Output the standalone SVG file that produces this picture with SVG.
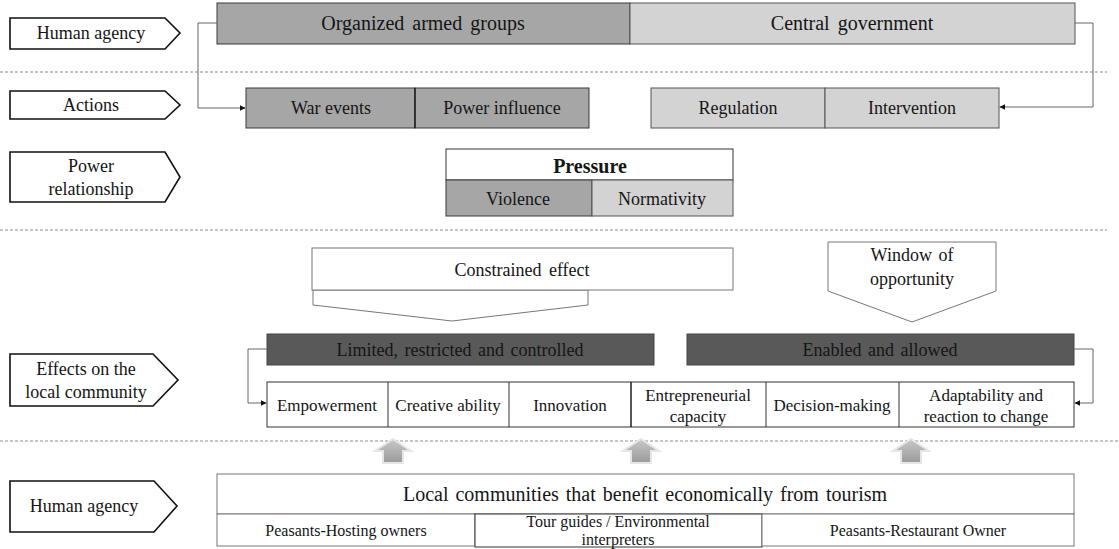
<svg xmlns="http://www.w3.org/2000/svg" width="1119" height="549" viewBox="0 0 1119 549">
<defs>
<marker id="ah" viewBox="0 0 10 10" refX="9" refY="5" markerWidth="6" markerHeight="6" orient="auto" markerUnits="userSpaceOnUse"><path d="M0,0 L10,5 L0,10 z" fill="#111"/></marker>
<linearGradient id="ag" x1="0" y1="0" x2="0" y2="1"><stop offset="0" stop-color="#c8c8c8"/><stop offset="1" stop-color="#9a9a9a"/></linearGradient>
<g id="uparrow"><polygon points="0,-2 18,10 10,10 10,22 -10,22 -10,10 -18,10" fill="url(#ag)" stroke="#e6e6e6" stroke-width="2"/></g>
</defs>
<style>
text{font-family:"Liberation Serif","Times New Roman",serif;fill:#151515;text-anchor:middle;dominant-baseline:central}
.lab{fill:#fff;stroke:#111;stroke-width:1.6}
.dk{fill:#a6a6a6;stroke:#3a3a3a;stroke-width:1}
.lt{fill:#d3d3d3;stroke:#555;stroke-width:1}
.vdk{fill:#595959;stroke:#444;stroke-width:1}
.wb{fill:#fff;stroke:#333;stroke-width:1}
.gb{fill:#fff;stroke:#777;stroke-width:1}
.dash{stroke:#8c8c8c;stroke-width:1;stroke-dasharray:3 2;fill:none}
.con{fill:none;stroke:#666;stroke-width:1}
.t18{font-size:18px}
.t17{font-size:17px}
.t16{font-size:16px}
.t20{font-size:20px}
</style>

<g id="separators">
<line class="dash" x1="0" y1="72" x2="1107" y2="72"/>
<line class="dash" x1="0" y1="230" x2="1107" y2="230"/>
<line class="dash" x1="0" y1="441" x2="1119" y2="441"/>
</g>

<g id="label-human-agency-top">
<polygon class="lab" points="10,18 165,18 180,33 165,49 10,49"/>
<text class="t18" x="91" y="33">Human agency</text>
</g>
<g id="label-actions">
<polygon class="lab" points="10,91 165,91 180,105 165,119 10,119"/>
<text class="t18" x="91" y="105">Actions</text>
</g>
<g id="label-power">
<polygon class="lab" points="10,152 165,152 180,177 165,202 10,202"/>
<text class="t18" x="91" y="166">Power</text>
<text class="t18" x="91" y="189">relationship</text>
</g>
<g id="label-effects">
<polygon class="lab" points="10,354 153,354 178,380 153,406 10,406"/>
<text class="t18" x="86" y="369">Effects on the</text>
<text class="t18" x="86" y="392">local community</text>
</g>
<g id="label-human-agency-bottom">
<polygon class="lab" points="10,481 154,481 177,506 154,532 10,532"/>
<text class="t18" x="84" y="506">Human agency</text>
</g>

<g id="organized-armed-groups">
<rect class="dk" x="217" y="3" width="413" height="41"/>
<text class="t20" x="423" y="23" word-spacing="3">Organized armed groups</text>
</g>
<g id="central-government">
<rect class="lt" x="630" y="3" width="445" height="41"/>
<text class="t20" x="852" y="23" word-spacing="3">Central government</text>
</g>

<g id="war-events">
<rect class="dk" x="246" y="88" width="169" height="40"/>
<text class="t18" x="331" y="108">War events</text>
</g>
<g id="power-influence">
<rect class="dk" x="415" y="88" width="174" height="40"/>
<line x1="415" y1="88" x2="415" y2="128" stroke="#111" stroke-width="1.2"/>
<text class="t18" x="502" y="108">Power influence</text>
</g>
<g id="regulation">
<rect class="lt" x="651" y="88" width="174" height="40"/>
<text class="t18" x="738" y="108">Regulation</text>
</g>
<g id="intervention">
<rect class="lt" x="825" y="88" width="174" height="40"/>
<text class="t18" x="912" y="108">Intervention</text>
</g>

<g id="pressure">
<rect class="wb" x="446" y="149" width="287" height="31"/>
<text x="590" y="166" font-size="20" font-weight="bold">Pressure</text>
<rect class="dk" x="446" y="180" width="146" height="36"/>
<text class="t18" x="518" y="199">Violence</text>
<rect class="lt" x="592" y="180" width="141" height="36"/>
<text class="t18" x="662" y="199">Normativity</text>
</g>

<g id="constrained-effect">
<polygon class="gb" points="313,290 313,305 452,321 588,305 588,290"/>
<rect class="gb" x="312" y="248" width="421" height="42"/>
<text class="t18" x="522" y="270" word-spacing="3">Constrained effect</text>
</g>
<g id="window-of-opportunity">
<polygon class="gb" points="828,242 996,242 996,291 912,322 828,291"/>
<text class="t18" x="912" y="255" word-spacing="2">Window of</text>
<text class="t18" x="912" y="279">opportunity</text>
</g>

<g id="limited">
<rect class="vdk" x="267" y="334" width="387" height="31"/>
<text class="t18" x="460" y="350" word-spacing="2">Limited, restricted and controlled</text>
</g>
<g id="enabled">
<rect class="vdk" x="687" y="334" width="387" height="31"/>
<text class="t18" x="880" y="350" word-spacing="2">Enabled and allowed</text>
</g>

<g id="effects-row">
<rect class="wb" x="267" y="382" width="807" height="45"/>
<line x1="388" y1="382" x2="388" y2="427" stroke="#333"/>
<line x1="509" y1="382" x2="509" y2="427" stroke="#333"/>
<line x1="631" y1="382" x2="631" y2="427" stroke="#111" stroke-width="1.4"/>
<line x1="766" y1="382" x2="766" y2="427" stroke="#333"/>
<line x1="899" y1="382" x2="899" y2="427" stroke="#333"/>
</g>
<g id="empowerment"><text class="t17" x="327" y="405">Empowerment</text></g>
<g id="creative-ability"><text class="t17" x="448" y="405">Creative ability</text></g>
<g id="innovation"><text class="t17" x="570" y="405">Innovation</text></g>
<g id="entrepreneurial"><text class="t17" x="698" y="395">Entrepreneurial</text><text class="t17" x="698" y="416">capacity</text></g>
<g id="decision-making"><text class="t17" x="832" y="405">Decision-making</text></g>
<g id="adaptability"><text class="t17" x="986" y="395">Adaptability and</text><text class="t17" x="986" y="416">reaction to change</text></g>

<g id="up-arrows">
<use href="#uparrow" x="393" y="441"/>
<use href="#uparrow" x="641" y="441"/>
<use href="#uparrow" x="911" y="441"/>
</g>

<g id="local-communities">
<rect class="gb" x="217" y="474" width="857" height="40"/>
<text class="t20" x="645" y="494" word-spacing="2">Local communities that benefit economically from tourism</text>
</g>
<g id="peasants-hosting">
<rect class="gb" x="217" y="514" width="258" height="32"/>
<text class="t16" x="346" y="530">Peasants-Hosting owners</text>
</g>
<g id="tour-guides">
<rect class="wb" x="475" y="514" width="287" height="33"/>
<text class="t16" x="618" y="521">Tour guides / Environmental</text>
<text class="t16" x="618" y="539">interpreters</text>
</g>
<g id="peasants-restaurant">
<rect class="gb" x="762" y="514" width="312" height="32"/>
<text class="t16" x="918" y="530">Peasants-Restaurant Owner</text>
</g>

<g id="connectors">
<path class="con" d="M217,23 H198 V108 H245" marker-end="url(#ah)"/>
<path class="con" d="M1075,23 H1093 V107 H1000" marker-end="url(#ah)"/>
<path class="con" d="M267,349 H248 V403 H266" marker-end="url(#ah)"/>
<path class="con" d="M1074,349 H1093 V403 H1075" marker-end="url(#ah)"/>
</g>
</svg>
